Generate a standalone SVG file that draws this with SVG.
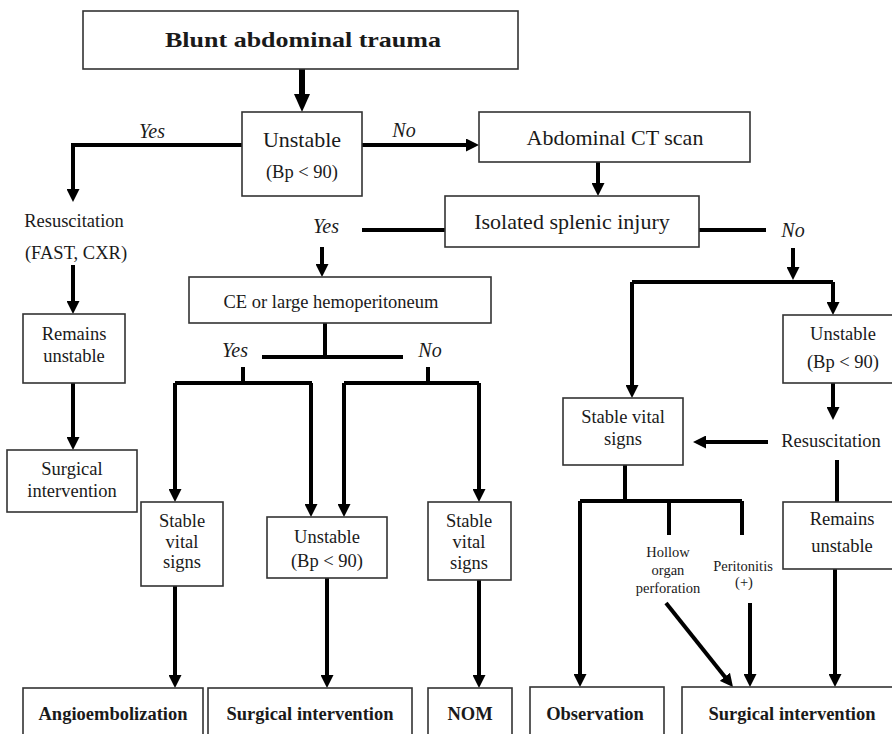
<svg xmlns="http://www.w3.org/2000/svg" width="892" height="734" viewBox="0 0 892 734">
<style>
  .box { fill: #fff; stroke: #333; stroke-width: 1.6; }
  text { font-family: "Liberation Serif", "Times New Roman", serif; fill: #1a1a1a; text-anchor: middle; }
  .big { font-size: 22px; }
  .mid { font-size: 18.5px; }
  .sm { font-size: 14.5px; }
  .bold { font-size: 18.5px; font-weight: bold; }
  .lab { font-size: 20px; font-style: italic; }
  .ln { fill: none; stroke: #000; stroke-width: 4; }
  .arr { fill: none; stroke: #000; stroke-width: 4; marker-end: url(#ah); }
  .arrL { fill: none; stroke: #000; stroke-width: 6; marker-end: url(#ahL); }
</style>
<defs>
  <marker id="ah" markerUnits="userSpaceOnUse" markerWidth="14" markerHeight="13" refX="5" refY="6.5" orient="auto">
    <path d="M0,0 L13,6.5 L0,13 z" fill="#000"/>
  </marker>
  <marker id="ahL" markerUnits="userSpaceOnUse" markerWidth="18" markerHeight="16" refX="6" refY="8" orient="auto">
    <path d="M0,0 L18,8 L0,16 z" fill="#000"/>
  </marker>
</defs>
<rect width="892" height="734" fill="#fff"/>

<g id="connectors">
  <path class="arrL" d="M302,69 V100"/>
  <path class="arr" d="M242,145 H73 V194"/>
  <path class="arr" d="M362,145 H471"/>
  <path class="arr" d="M598,162 V188"/>
  <path class="ln" d="M445,230 H362"/>
  <path class="ln" d="M699,230 H766"/>
  <path class="arr" d="M322,247 V269"/>
  <path class="arr" d="M793,248 V272"/>
  <path class="arr" d="M73,265 V306"/>
  <path class="arr" d="M73,383 V442"/>
  <path class="ln" d="M325,323 V357"/>
  <path class="ln" d="M262,357 H403"/>
  <path class="ln" d="M243,367 V383"/>
  <path class="ln" d="M175,383 H312"/>
  <path class="arr" d="M175,383 V494"/>
  <path class="arr" d="M311,383 V509"/>
  <path class="ln" d="M428,367 V383"/>
  <path class="ln" d="M344,383 H479"/>
  <path class="arr" d="M344,383 V509"/>
  <path class="arr" d="M479,383 V494"/>
  <path class="arr" d="M175,586 V680"/>
  <path class="arr" d="M327,578 V680"/>
  <path class="arr" d="M479,580 V680"/>
  <path class="ln" d="M632,282 H833"/>
  <path class="arr" d="M632,282 V390"/>
  <path class="arr" d="M833,282 V307"/>
  <path class="arr" d="M833,383 V412"/>
  <path class="arr" d="M768,442 H701"/>
  <path class="ln" d="M837,460 V502"/>
  <path class="ln" d="M625,465 V501"/>
  <path class="ln" d="M580,501 H742"/>
  <path class="arr" d="M580,501 V679"/>
  <path class="ln" d="M669,501 V535"/>
  <path class="ln" d="M742,501 V535"/>
  <path class="arr" d="M666,603 L728,680.7"/>
  <path class="arr" d="M750,603 V679"/>
  <path class="arr" d="M835,569 V679"/>
</g>

<g id="labels">
  <text class="lab" x="152" y="138">Yes</text>
  <text class="lab" x="404" y="137">No</text>
  <text class="lab" x="326" y="233">Yes</text>
  <text class="lab" x="793" y="237">No</text>
  <text class="lab" x="235" y="357">Yes</text>
  <text class="lab" x="430" y="357">No</text>
</g>

<g id="n-title">
  <rect class="box" x="83" y="11" width="435" height="58"/>
  <text x="303" y="47" style="font-size:22px;font-weight:bold" textLength="276" lengthAdjust="spacingAndGlyphs">Blunt abdominal trauma</text>
</g>
<g id="n-unstable1">
  <rect class="box" x="242" y="112" width="120" height="84"/>
  <text class="big" x="302" y="147">Unstable</text>
  <text class="mid" x="302" y="178">(Bp &lt; 90)</text>
</g>
<g id="n-ct">
  <rect class="box" x="479" y="112" width="271" height="50"/>
  <text class="big" x="615" y="145">Abdominal CT scan</text>
</g>
<g id="n-isolated">
  <rect class="box" x="445" y="196" width="254" height="51"/>
  <text class="big" x="572" y="229">Isolated splenic injury</text>
</g>
<g id="n-resus1">
  <text class="mid" x="74" y="227">Resuscitation</text>
  <text class="mid" x="76" y="259">(FAST, CXR)</text>
</g>
<g id="n-remains1">
  <rect class="box" x="23" y="314" width="102" height="69"/>
  <text class="mid" x="74" y="340">Remains</text>
  <text class="mid" x="74" y="362">unstable</text>
</g>
<g id="n-surg1">
  <rect class="box" x="7" y="450" width="130" height="62"/>
  <text class="mid" x="72" y="475">Surgical</text>
  <text class="mid" x="72" y="497">intervention</text>
</g>
<g id="n-ce">
  <rect class="box" x="189" y="277" width="302" height="46"/>
  <text class="mid" x="331" y="308">CE or large hemoperitoneum</text>
</g>
<g id="n-stableA">
  <rect class="box" x="141" y="502" width="82" height="84"/>
  <text class="mid" x="182" y="527">Stable</text>
  <text class="mid" x="182" y="548">vital</text>
  <text class="mid" x="182" y="568">signs</text>
</g>
<g id="n-unstableB">
  <rect class="box" x="267" y="517" width="120" height="61"/>
  <text class="mid" x="327" y="543">Unstable</text>
  <text class="mid" x="327" y="567">(Bp &lt; 90)</text>
</g>
<g id="n-stableC">
  <rect class="box" x="428" y="502" width="83" height="78"/>
  <text class="mid" x="469" y="527">Stable</text>
  <text class="mid" x="469" y="548">vital</text>
  <text class="mid" x="469" y="569">signs</text>
</g>
<g id="n-angio">
  <rect class="box" x="23" y="688" width="180" height="60"/>
  <text class="bold" x="113" y="720">Angioembolization</text>
</g>
<g id="n-surg2">
  <rect class="box" x="208" y="688" width="204" height="60"/>
  <text class="bold" x="310" y="720">Surgical intervention</text>
</g>
<g id="n-nom">
  <rect class="box" x="428" y="688" width="84" height="60"/>
  <text class="bold" x="470" y="720">NOM</text>
</g>
<g id="n-stableD">
  <rect class="box" x="563" y="398" width="120" height="67"/>
  <text class="mid" x="623" y="423">Stable vital</text>
  <text class="mid" x="623" y="445">signs</text>
</g>
<g id="n-unstableE">
  <rect class="box" x="783" y="315" width="120" height="68"/>
  <text class="mid" x="843" y="340">Unstable</text>
  <text class="mid" x="843" y="368">(Bp &lt; 90)</text>
</g>
<g id="n-resus2">
  <text class="mid" x="831" y="447">Resuscitation</text>
</g>
<g id="n-remains2">
  <rect class="box" x="783" y="502" width="120" height="67"/>
  <text class="mid" x="842" y="525">Remains</text>
  <text class="mid" x="842" y="552">unstable</text>
</g>
<g id="n-hollow">
  <text class="sm" x="668" y="557">Hollow</text>
  <text class="sm" x="668" y="575">organ</text>
  <text class="sm" x="668" y="593">perforation</text>
</g>
<g id="n-peritonitis">
  <text class="sm" x="743" y="571">Peritonitis</text>
  <text class="sm" x="744" y="587">(+)</text>
</g>
<g id="n-observation">
  <rect class="box" x="530" y="687" width="134" height="60"/>
  <text class="bold" x="595" y="720">Observation</text>
</g>
<g id="n-surg3">
  <rect class="box" x="682" y="687" width="220" height="60"/>
  <text class="bold" x="792" y="720">Surgical intervention</text>
</g>
</svg>
